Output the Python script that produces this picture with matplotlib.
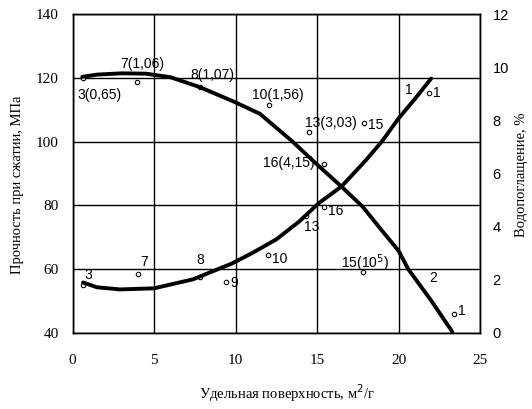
import matplotlib
matplotlib.use("Agg")
import matplotlib.pyplot as plt

# ---- data ----
# curve 2: compressive strength (left axis, MPa)
strength_x = [0.6, 1.5, 3.0, 4.5, 6.0, 7.8, 10.0, 11.5, 13.5, 14.9, 16.5, 17.8, 19.0, 20.0, 20.6, 22.0, 23.3]
strength_y = [120.3, 121.0, 121.4, 121.3, 120.2, 117.1, 112.3, 108.7, 100.0, 93.3, 85.9, 79.6, 72.0, 65.8, 60.0, 50.2, 40.4]

# curve 1: water absorption (right axis, %)
water_x = [0.65, 1.5, 2.9, 5.0, 7.4, 9.8, 11.0, 12.5, 13.9, 15.1, 16.5, 18.0, 19.0, 20.0, 21.0, 22.0]
water_y = [1.9, 1.72, 1.64, 1.68, 2.02, 2.62, 3.0, 3.52, 4.19, 4.88, 5.51, 6.5, 7.22, 8.07, 8.8, 9.57]

# experimental points: strength (left axis)
sp_labels = ["3(0,65)", "7(1,06)", "8(1,07)", "10(1,56)", "13(3,03)", "16(4,15)", "15(10$^5$)", "1"]
sp_x = [0.62, 3.96, 7.8, 12.04, 14.53, 15.44, 17.85, 23.39]
sp_y = [119.8, 118.8, 117.1, 111.5, 103.1, 93.0, 59.2, 46.0]

# experimental points: water absorption (right axis)
wp_labels = ["3", "7", "8", "9", "10", "13", "16", "15", "1"]
wp_x = [0.63, 3.99, 7.8, 9.43, 11.98, 14.3, 15.44, 17.89, 21.87]
wp_y = [1.8, 2.21, 2.12, 1.93, 2.94, 4.42, 4.75, 7.89, 9.01]

curve_labels = ["1", "2"]

x_ticks = [0, 5, 10, 15, 20, 25]
y_ticks = [40, 60, 80, 100, 120, 140]
y2_ticks = [0, 2, 4, 6, 8, 10, 12]

# ---- figure ----
W, H = 532, 409
fig = plt.figure(figsize=(W / 100, H / 100), dpi=100)
ax = fig.add_axes([72.5 / W, 1 - 333 / H, (480 - 72.5) / W, (333 - 14) / H])
ax2 = ax.twinx()

serif = "Liberation Serif"
sans = "Liberation Sans"

ax.set_xlim(0, 25)
ax.set_ylim(40, 140)
ax2.set_ylim(0, 12)
ax.set_xticks(x_ticks)
ax.set_yticks(y_ticks)
ax2.set_yticks(y2_ticks)
ax.set_xticklabels([str(v) for v in x_ticks], fontfamily=serif, fontsize=11)
ax.set_yticklabels([str(v) for v in y_ticks], fontfamily=serif, fontsize=11)
ax2.set_yticklabels([str(v) for v in y2_ticks], fontfamily=sans, fontsize=10.5)
ax.tick_params(axis="x", length=0, pad=15)
ax.tick_params(axis="y", length=0, pad=10)
ax2.tick_params(axis="y", length=0, pad=9)

ax.grid(True, color="black", linewidth=1.0)
ax.set_axisbelow(True)
for a in (ax, ax2):
    for s in a.spines.values():
        s.set_linewidth(1.0)
        s.set_color("black")

ax.plot(strength_x, strength_y, color="black", linewidth=2.8, solid_capstyle="round", zorder=3)
ax2.plot(water_x, water_y, color="black", linewidth=2.8, solid_capstyle="round", zorder=3)

ax.plot(sp_x, sp_y, linestyle="none", marker="o", markersize=3.2, markerfacecolor="white",
        markeredgecolor="black", markeredgewidth=0.8, zorder=2)
ax2.plot(wp_x, wp_y, linestyle="none", marker="o", markersize=3.2, markerfacecolor="white",
         markeredgecolor="black", markeredgewidth=0.8, zorder=2)

fs = 10
# label offsets in points (relative to the point), with alignment
sp_off = [(-4, -12, "left"), (4, 13, "center"), (-7, 9, "left"), (-12, 7, "left"),
          (-3, 6, "left"), (-44, 1, "left"), (-16, 6, "left"), (3, 2, "left")]
for lab, x, y, (dx, dy, ha) in zip(sp_labels, sp_x, sp_y, sp_off):
    ax.annotate(lab, (x, y), xytext=(dx, dy), textcoords="offset points",
                ha=ha, va="center", fontfamily=sans, fontsize=fs, zorder=5)

wp_off = [(1, 7, "left"), (2, 9, "left"), (-2, 12, "left"), (3, -1, "left"), (3, -3, "left"),
          (-1, -8, "left"), (3, -3, "left"), (3, -1, "left"), (3, 0, "left")]
for lab, x, y, (dx, dy, ha) in zip(wp_labels, wp_x, wp_y, wp_off):
    ax2.annotate(lab, (x, y), xytext=(dx, dy), textcoords="offset points",
                 ha=ha, va="center", fontfamily=sans, fontsize=fs, zorder=5)

# curve number labels
ax2.annotate(curve_labels[0], (water_x[-1], water_y[-1]), xytext=(-19, -8), textcoords="offset points",
             ha="left", va="center", fontfamily=sans, fontsize=fs)
ax.annotate(curve_labels[1], (strength_x[-3], strength_y[-3]), xytext=(15, -6), textcoords="offset points",
            ha="left", va="center", fontfamily=sans, fontsize=fs)

fig.text(287 / W, 1 - 393 / H, "Удельная поверхность, м$^2$/г", ha="center", va="center",
         fontfamily=serif, fontsize=10.5)
fig.text(18 / W, 1 - 185 / H, "Прочность при сжатии, МПа", ha="center", va="center",
         rotation=90, fontfamily=serif, fontsize=10.5)
fig.text(521 / W, 1 - 175 / H, "Водопоглащение, %", ha="center", va="center",
         rotation=90, fontfamily=serif, fontsize=10.5)

fig.savefig("out.png", dpi=100)
